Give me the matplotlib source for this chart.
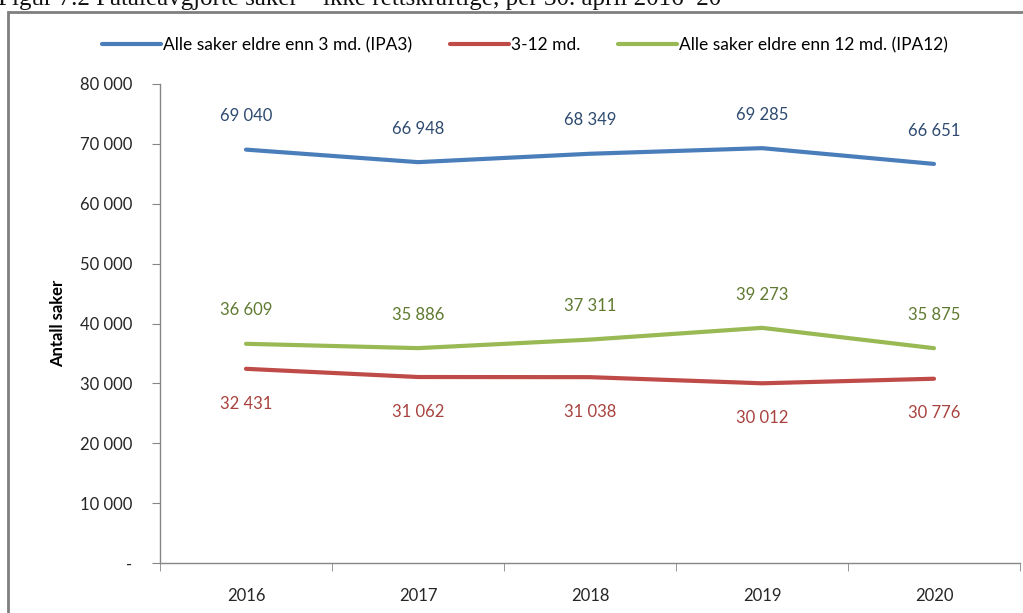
import matplotlib
matplotlib.use("Agg")
import matplotlib.pyplot as plt
from matplotlib.patches import Rectangle
from matplotlib.ticker import FuncFormatter, FixedLocator, NullFormatter

# data
years = ["2016", "2017", "2018", "2019", "2020"]
ipa3 = [69040, 66948, 68349, 69285, 66651]
mid = [32431, 31062, 31038, 30012, 30776]
ipa12 = [36609, 35886, 37311, 39273, 35875]
names = ["Alle saker eldre enn 3 md. (IPA3)", "3-12 md.", "Alle saker eldre enn 12 md. (IPA12)"]

line_colors = ["#4A7EBB", "#BE4B48", "#98B954"]
label_colors = ["#2E4A70", "#A8423E", "#5F7A30"]

plt.rcParams['font.family'] = ['Lato', 'DejaVu Sans']

fig = plt.figure(figsize=(10.23, 6.13), dpi=100)
ax = fig.add_axes([160 / 1023, 50 / 613, 860 / 1023, 479 / 613])

x = list(range(len(years)))
series = [ipa3, mid, ipa12]
offsets = [24, -25, 24]
for vals, name, lc, tc, off in zip(series, names, line_colors, label_colors, offsets):
    ax.plot(x, vals, color=lc, lw=3, label=name, solid_capstyle='round', solid_joinstyle='round')
    for xi, v in zip(x, vals):
        ax.annotate(f"{v:,}".replace(",", " "), (xi, v), xytext=(0, off), textcoords="offset points",
                    ha="center", va="center", color=tc, fontsize=12)

ax.set_xlim(-0.5, len(years) - 0.5)
ax.set_ylim(0, 80000)
ax.set_yticks(range(0, 80001, 10000))
ax.yaxis.set_major_formatter(FuncFormatter(lambda v, p: "-" if v == 0 else f"{int(v):,}".replace(",", " ")))
ax.set_xticks(x)
ax.set_xticklabels(years)
ax.xaxis.set_minor_locator(FixedLocator([i - 0.5 for i in range(len(years) + 1)]))
ax.xaxis.set_minor_formatter(NullFormatter())
ax.tick_params(axis="x", which="major", length=0, pad=18, labelsize=12)
ax.tick_params(axis="x", which="minor", length=6, color="#868686", direction="out")
ax.tick_params(axis="y", length=6, color="#868686", direction="out", pad=14, labelsize=12)
for lab in ax.get_xticklabels() + ax.get_yticklabels():
    lab.set_color("#262626")

for s in ["top", "right"]:
    ax.spines[s].set_visible(False)
for s in ["left", "bottom"]:
    ax.spines[s].set_color("#868686")
    ax.spines[s].set_linewidth(1)

ax.set_ylabel("Antall saker", fontsize=12, fontweight="bold", labelpad=10)

ax.legend(loc="center", bbox_to_anchor=(525 / 1023, 1 - 45 / 613), bbox_transform=fig.transFigure,
          ncol=3, frameon=False, fontsize=12.5, handlelength=3.4, columnspacing=2.2, handletextpad=0.1)

# outer frame of the figure box
fig.patches.append(Rectangle((8 / 1023, -0.1), 1.2, 1 - 12 / 613 + 0.1, transform=fig.transFigure,
                             fill=False, edgecolor="#7F7F7F", lw=2))

# caption cut off at top
fig.text(-0.002, 1 - 5 / 613, "Figur 7.2 Påtaleavgjorte saker – ikke rettskraftige, per 30. april 2016–20",
         family="Liberation Serif", fontsize=18, va="baseline", ha="left", color="#111111")

fig.savefig("out.png", dpi=100)
